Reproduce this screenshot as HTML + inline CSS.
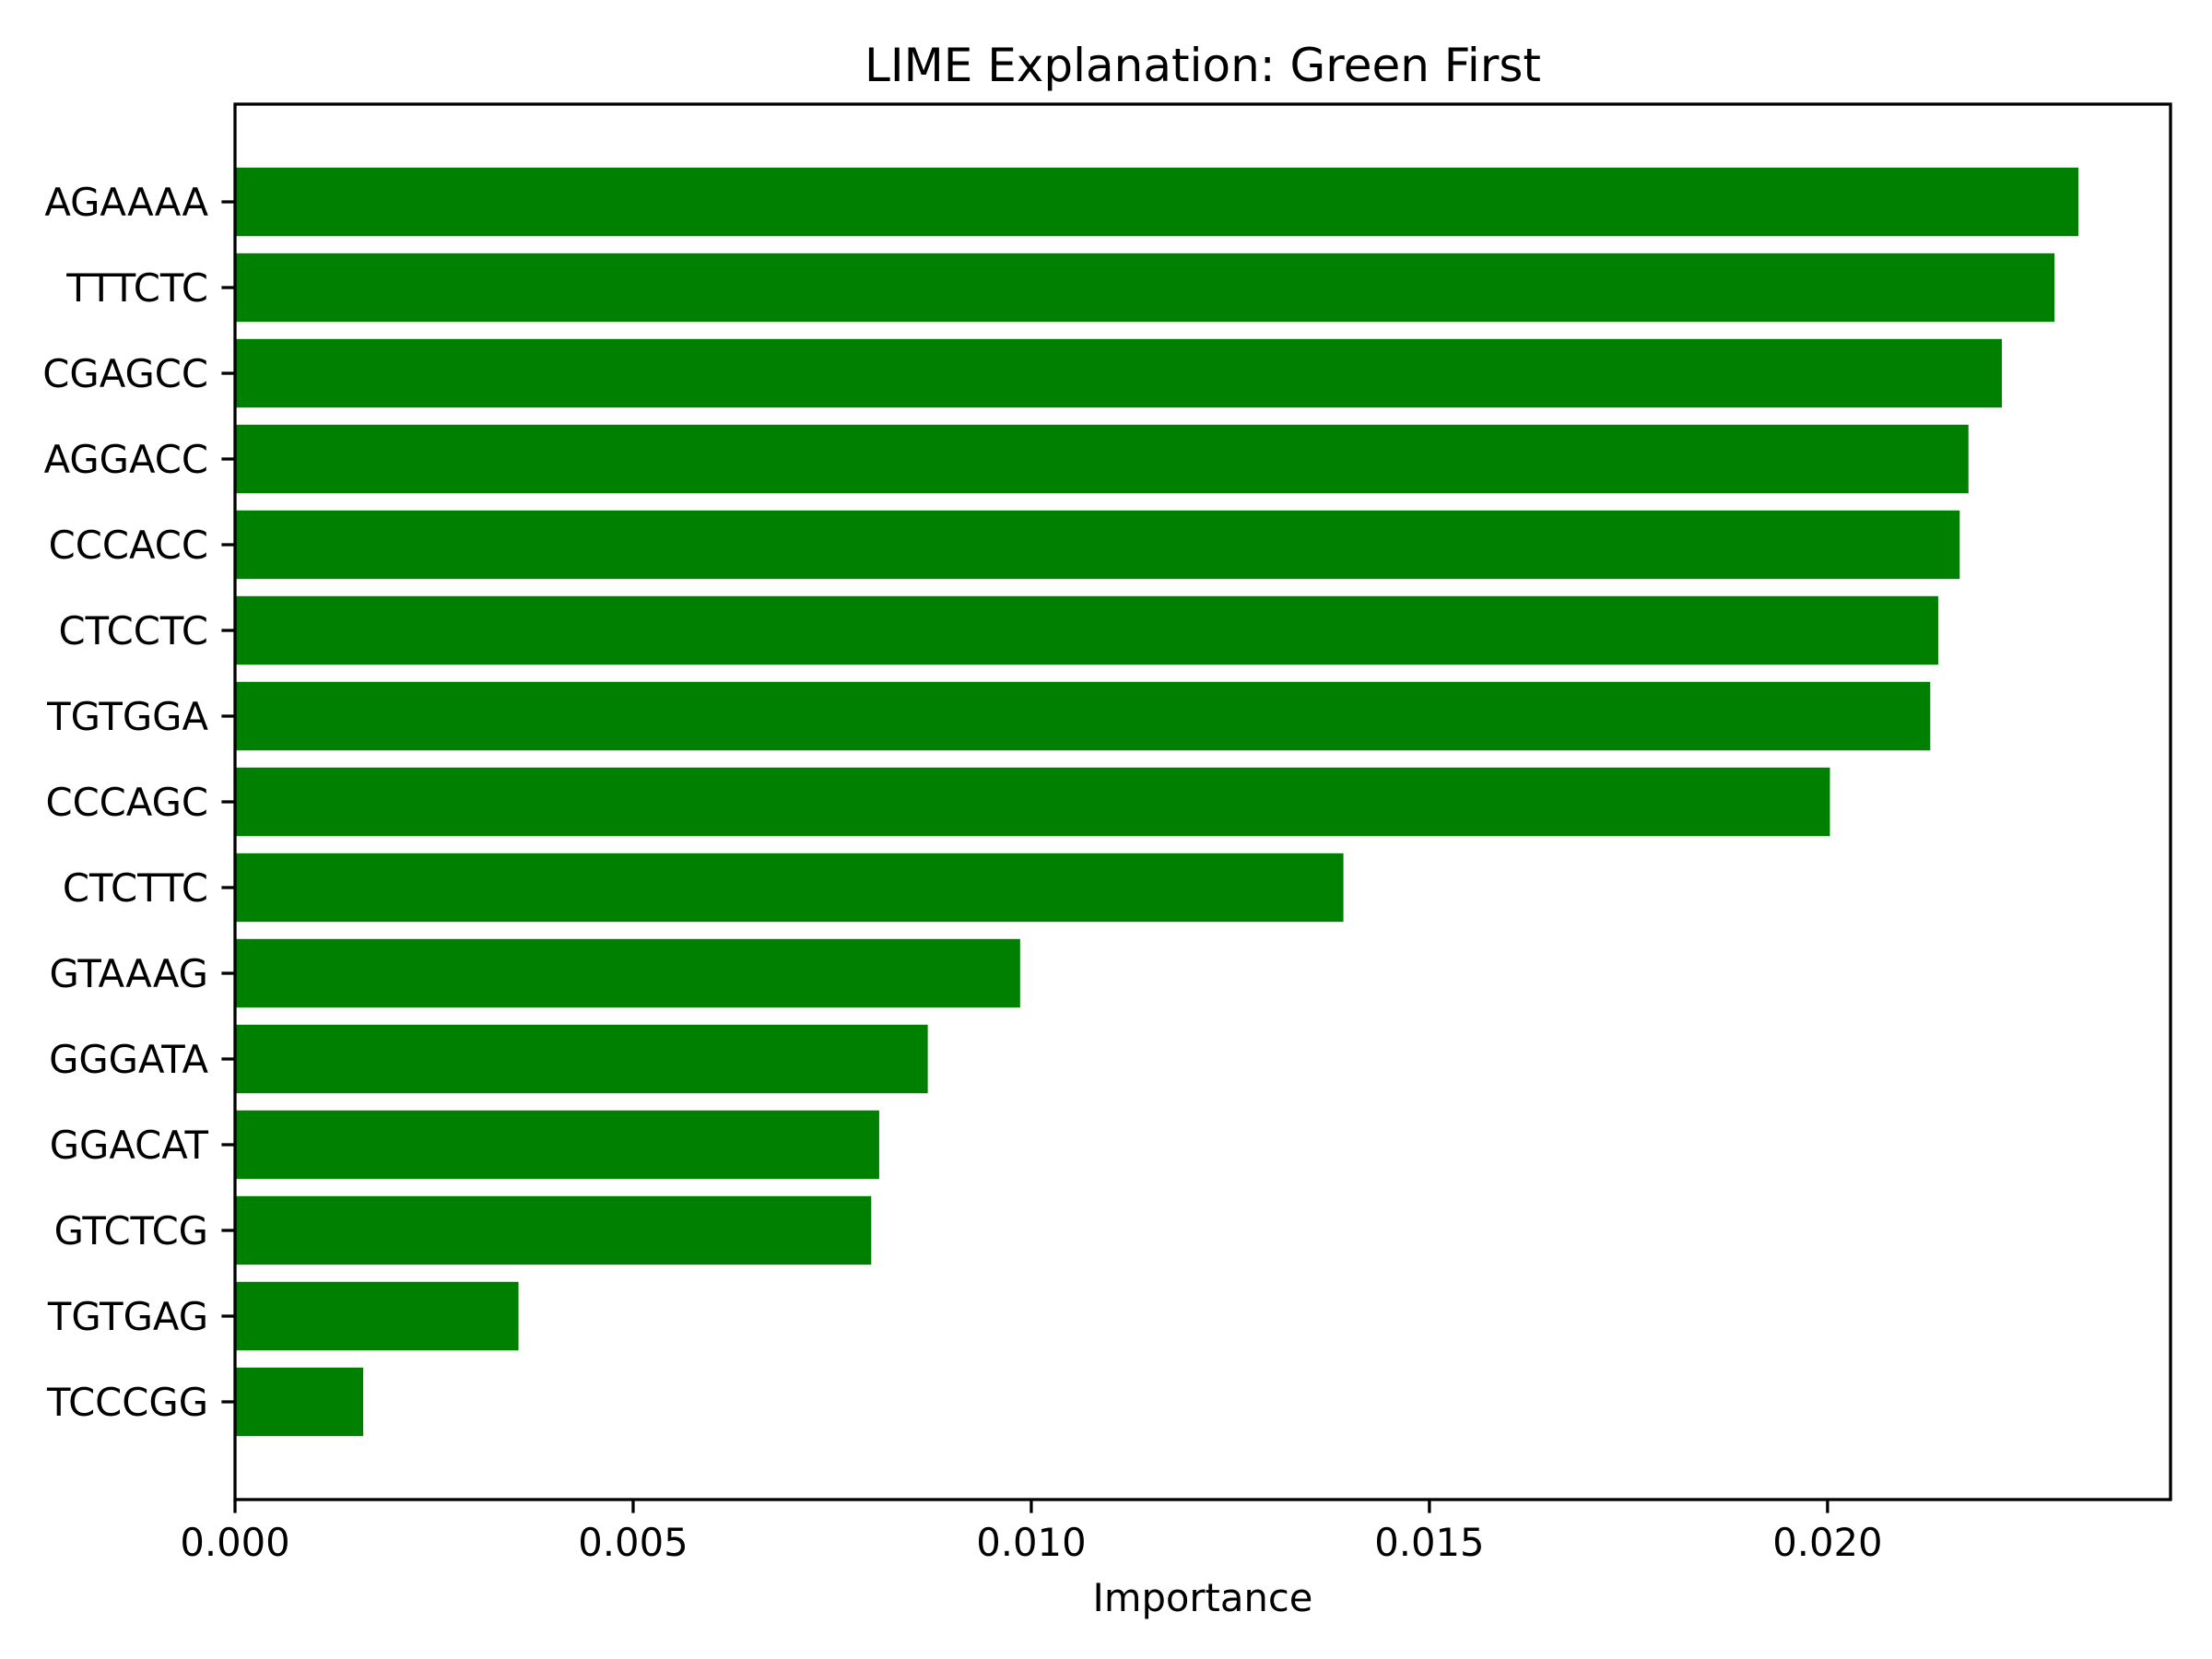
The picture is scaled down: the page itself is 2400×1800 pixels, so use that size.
<!DOCTYPE html>
<html><head><meta charset="utf-8"><style>html,body{margin:0;padding:0;background:#fff}svg{display:block}text{font-family:"DejaVu Sans","Liberation Sans",sans-serif;fill:#000}</style></head>
<body>
<svg id="chart" width="2400" height="1800" viewBox="0 0 2400 1800" xmlns="http://www.w3.org/2000/svg">
<rect width="2400" height="1800" fill="#fff"/>
<text x="1305" y="88" font-size="50" text-anchor="middle">LIME Explanation: Green First</text>
<g id="bars"></g>
<g id="yticks"></g>
<g id="xticks"></g>
<rect x="255" y="113" width="2100" height="1514" fill="none" stroke="#000" stroke-width="3.3"/>
<text x="1305" y="1748" font-size="41.7" text-anchor="middle">Importance</text>
</svg>
<script>
const categories = ["AGAAAA","TTTCTC","CGAGCC","AGGACC","CCCACC","CTCCTC","TGTGGA","CCCAGC","CTCTTC","GTAAAG","GGGATA","GGACAT","GTCTCG","TGTGAG","TCCCGG"];
const values = [0.02315,0.02285,0.02219,0.02177,0.02166,0.02139,0.02129,0.02003,0.01392,0.00986,0.00870,0.00809,0.00799,0.00356,0.00161];
const xTickValues = [0,0.005,0.010,0.015,0.020];
const xTickLabels = ["0.000","0.005","0.010","0.015","0.020"];

const NS = "http://www.w3.org/2000/svg";
const L = 255, R = 2355, T = 113, B = 1627;
const xMax = Math.max(...values) * 1.05;
const n = categories.length;
const yMin = -0.4 - 0.05 * (n - 1 + 0.8), yMax = n - 1 + 0.4 + 0.05 * (n - 1 + 0.8);
function xScale(v) { return L + (v / xMax) * (R - L); }
function yScale(i) { return T + (i - yMin) / (yMax - yMin) * (B - T); }
const bandH = (yScale(1) - yScale(0)) * 0.8;

const gb = document.getElementById('bars');
const gy = document.getElementById('yticks');
const gx = document.getElementById('xticks');
function mk(tag, attrs) { const e = document.createElementNS(NS, tag); for (const k in attrs) e.setAttribute(k, attrs[k]); return e; }

categories.forEach((c, i) => {
  const yc = yScale(i);
  const r = mk('rect', {x: xScale(0), y: yc - bandH / 2, width: xScale(values[i]) - xScale(0), height: bandH, fill: '#008000'});
  
  
  gb.appendChild(r);
  const t = mk('line', {x1: L - 14.6, x2: L, y1: yc, y2: yc, stroke: '#000', 'stroke-width': 3.3});
  
  
  gy.appendChild(t);
  const lb = mk('text', {x: L - 29, y: yc + 15, 'font-size': 41.7, 'text-anchor': 'end'});
  lb.textContent = c;
  
  
  gy.appendChild(lb);
});
xTickValues.forEach((v, i) => {
  const x = xScale(v);
  const t = mk('line', {x1: x, x2: x, y1: B, y2: B + 14.6, stroke: '#000', 'stroke-width': 3.3});
  
  
  gx.appendChild(t);
  const lb = mk('text', {x: x, y: B + 61, 'font-size': 41.7, 'text-anchor': 'middle'});
  lb.textContent = xTickLabels[i];
  
  
  gx.appendChild(lb);
});
</script>
</body></html>
